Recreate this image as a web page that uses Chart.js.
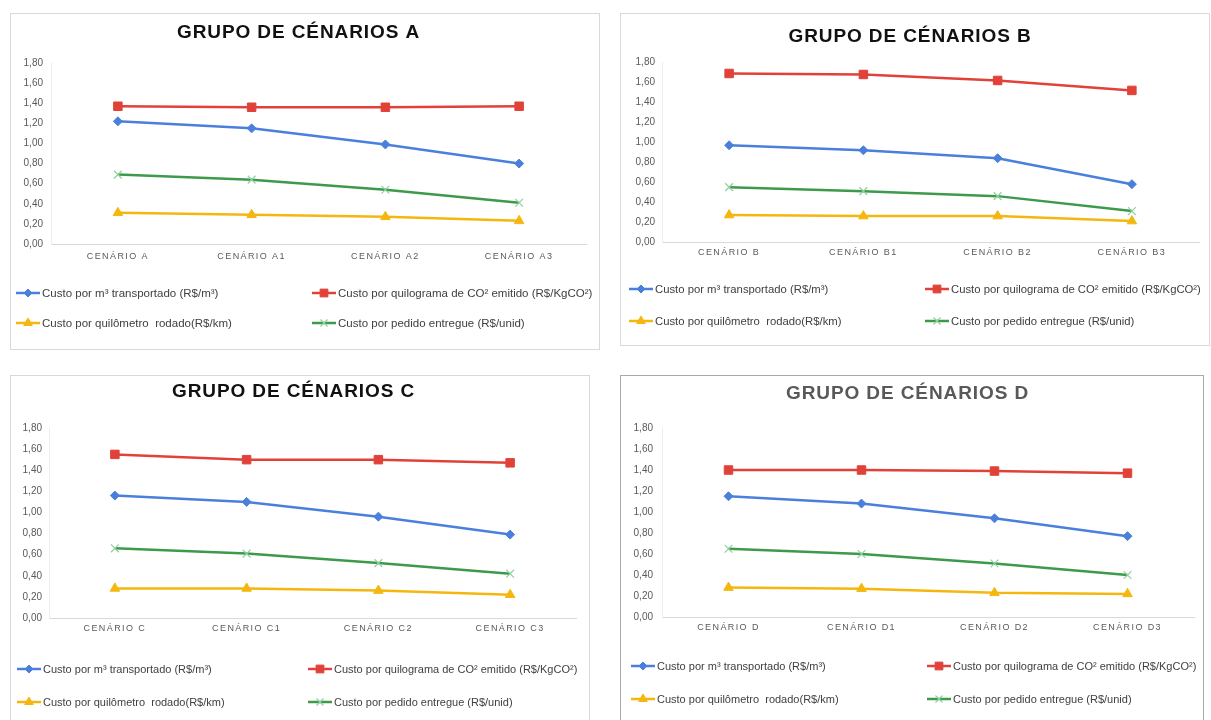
<!DOCTYPE html>
<html lang="pt-BR">
<head>
<meta charset="utf-8">
<title>Grupos de cenários</title>
<script src="https://cdn.jsdelivr.net/npm/chart.js@4.4.1/dist/chart.umd.min.js"></script>
<style>
  html, body { margin: 0; padding: 0; background: #fff; width: 1211px; height: 720px; overflow: hidden; }
  .panel { position: absolute; box-sizing: border-box; border: 1px solid #d9d9d9; background: #fff; overflow: hidden; }
  .panel canvas.plot { position: absolute; left: 0; top: 0; }
  .key { position: absolute; height: 16px; display: flex; align-items: center; white-space: pre;
         font-family: "Liberation Sans", Arial, sans-serif; font-size: 11.5px; color: #404040; }
  .key canvas { margin-right: 2px; }
</style>
</head>
<body>
<div id="pA" class="panel" style="left:10px;top:13px;width:590px;height:337px"><canvas id="cA" class="plot"></canvas></div>
<div id="pB" class="panel" style="left:620px;top:13px;width:590px;height:333px"><canvas id="cB" class="plot"></canvas></div>
<div id="pC" class="panel" style="left:10px;top:375px;width:580px;height:360px"><canvas id="cC" class="plot"></canvas></div>
<div id="pD" class="panel" style="left:620px;top:375px;width:584px;height:360px;border-color:#a9a9a9"><canvas id="cD" class="plot"></canvas></div>
<script>
// ---- data -------------------------------------------------------------
const seriesNames = [
  'Custo por m³ transportado (R$/m³)',
  'Custo por quilograma de CO² emitido (R$/KgCO²)',
  'Custo por quilômetro  rodado(R$/km)',
  'Custo por pedido entregue (R$/unid)'
];
const yTicks = [0.00, 0.20, 0.40, 0.60, 0.80, 1.00, 1.20, 1.40, 1.60, 1.80];

const cenariosA = ['CENÁRIO A', 'CENÁRIO A1', 'CENÁRIO A2', 'CENÁRIO A3'];
const m3A     = [1.22, 1.15, 0.99, 0.80];
const co2A    = [1.37, 1.36, 1.36, 1.37];
const kmA     = [0.31, 0.29, 0.27, 0.23];
const pedidoA = [0.69, 0.64, 0.54, 0.41];

const cenariosB = ['CENÁRIO B', 'CENÁRIO B1', 'CENÁRIO B2', 'CENÁRIO B3'];
const m3B     = [0.97, 0.92, 0.84, 0.58];
const co2B    = [1.69, 1.68, 1.62, 1.52];
const kmB     = [0.27, 0.26, 0.26, 0.21];
const pedidoB = [0.55, 0.51, 0.46, 0.31];

const cenariosC = ['CENÁRIO C', 'CENÁRIO C1', 'CENÁRIO C2', 'CENÁRIO C3'];
const m3C     = [1.16, 1.10, 0.96, 0.79];
const co2C    = [1.55, 1.50, 1.50, 1.47];
const kmC     = [0.28, 0.28, 0.26, 0.22];
const pedidoC = [0.66, 0.61, 0.52, 0.42];

const cenariosD = ['CENÁRIO D', 'CENÁRIO D1', 'CENÁRIO D2', 'CENÁRIO D3'];
const m3D     = [1.15, 1.08, 0.94, 0.77];
const co2D    = [1.40, 1.40, 1.39, 1.37];
const kmD     = [0.28, 0.27, 0.23, 0.22];
const pedidoD = [0.65, 0.60, 0.51, 0.40];

// ---- styles -----------------------------------------------------------
const FONT = '"Liberation Sans", Arial, sans-serif';
const seriesStyles = [
  { line: '#4a80dc', shape: 'rectRot',  radius: 4.5, fill: '#4a80dc', stroke: '#4a80dc', bw: 1 },
  { line: '#e0423a', shape: 'rect',     radius: 6,   fill: '#e0423a', stroke: '#e0423a', bw: 1 },
  { line: '#f5b70f', shape: 'triangle', radius: 5.5, fill: '#f5b70f', stroke: '#f5b70f', bw: 1 },
  { line: '#3d9a4c', shape: 'crossRot', radius: 5.5, fill: '#8fd19e', stroke: '#8fd19e', bw: 1.2 }
];

const panels = [
  { key: 'A', title: 'GRUPO DE CÉNARIOS A', titleColor: '#111', categories: cenariosA,
    series: [m3A, co2A, kmA, pedidoA], w: 588, h: 335, titleY: 19,
    area: { l: 40, r: 575, t: 49, b: 230 }, xGap: 13, yPad: 8,
    legendCols: [5, 301], legendRows: [279, 309], legendSize: 11.5 },
  { key: 'B', title: 'GRUPO DE CÉNARIOS B', titleColor: '#111', categories: cenariosB,
    series: [m3B, co2B, kmB, pedidoB], w: 588, h: 331, titleY: 23,
    area: { l: 41, r: 578, t: 48.5, b: 228 }, xGap: 11, yPad: 7,
    legendCols: [8, 304], legendRows: [275, 307], legendSize: 11.3 },
  { key: 'C', title: 'GRUPO DE CÉNARIOS C', titleColor: '#111', categories: cenariosC,
    series: [m3C, co2C, kmC, pedidoC], w: 578, h: 358, titleY: 16,
    area: { l: 38, r: 565, t: 52, b: 242 }, xGap: 11, yPad: 7,
    legendCols: [6, 297], legendRows: [293, 326], legendSize: 11 },
  { key: 'D', title: 'GRUPO DE CÉNARIOS D', titleColor: '#595959', categories: cenariosD,
    series: [m3D, co2D, kmD, pedidoD], w: 582, h: 358, titleY: 18,
    area: { l: 41, r: 573, t: 52, b: 241 }, xGap: 11, yPad: 9,
    legendCols: [10, 306], legendRows: [290, 323], legendSize: 11 }
];

// Letter-spaced title and category labels
function withSpacing(target, method, spacing) {
  if (!target || target['__sp_' + method]) return;
  const original = target[method];
  target[method] = function (...args) {
    const ctx = this.ctx;
    const prev = ctx.letterSpacing;
    ctx.letterSpacing = spacing;
    original.apply(this, args);
    ctx.letterSpacing = prev;
  };
  target['__sp_' + method] = true;
}
const spacingPlugin = {
  id: 'letterSpacing',
  afterLayout(chart, args, opts) {
    withSpacing(chart.titleBlock, 'draw', opts.title || '0px');
    withSpacing(chart.scales.x, 'drawLabels', opts.x || '0px');
  }
};

const fmt = v => Number(v).toFixed(2).replace('.', ',');

function buildChart(p) {
  const canvas = document.getElementById('c' + p.key);
  canvas.width = p.w;
  canvas.height = p.h;
  const datasets = p.series.map((values, i) => {
    const s = seriesStyles[i];
    return {
      label: seriesNames[i],
      data: values,
      borderColor: s.line,
      backgroundColor: s.line,
      borderWidth: 2.5,
      pointStyle: s.shape,
      pointRadius: s.radius,
      pointHoverRadius: s.radius,
      pointBackgroundColor: s.fill,
      pointBorderColor: s.stroke,
      pointBorderWidth: s.bw,
      tension: 0,
      fill: false
    };
  });
  const lh = 19 * 1.2;
  return new Chart(canvas, {
    type: 'line',
    data: { labels: p.categories, datasets },
    options: {
      responsive: false,
      animation: false,
      events: [],
      layout: { padding: { left: 0, right: p.w - p.area.r, top: 0, bottom: 0 } },
      plugins: {
        legend: { display: false },
        tooltip: { enabled: false },
        title: {
          display: true, text: p.title, color: p.titleColor,
          font: { family: FONT, size: 19, weight: 'bold', lineHeight: 1.2 },
          padding: { top: p.titleY - lh / 2, bottom: p.area.t - p.titleY - lh / 2 }
        },
        letterSpacing: { title: '0.9px', x: '1.4px' }
      },
      scales: {
        x: {
          offset: true,
          grid: { display: false, drawTicks: false },
          border: { display: true, color: '#d9d9d9', width: 1 },
          ticks: { color: '#595959', font: { family: FONT, size: 9, lineHeight: 1.2 },
                   padding: p.xGap - 5.4, maxRotation: 0, autoSkip: false },
          afterFit: s => { s.height = p.h - p.area.b; }
        },
        y: {
          min: 0, max: 1.8,
          grid: { display: false, drawTicks: false },
          border: { display: true, color: '#ededed', width: 1 },
          ticks: { color: '#595959', font: { family: FONT, size: 10 }, padding: p.yPad,
                   callback: v => fmt(v) },
          afterBuildTicks: s => { s.ticks = yTicks.map(v => ({ value: v })); },
          afterFit: s => { s.width = p.area.l; }
        }
      }
    },
    plugins: [spacingPlugin]
  });
}

// Legend key: short line segment with the series marker in its middle
function keyCanvas(ds) {
  const c = document.createElement('canvas');
  c.width = 24; c.height = 12;
  const g = c.getContext('2d');
  g.strokeStyle = ds.borderColor; g.lineWidth = 2.5;
  g.beginPath(); g.moveTo(0, 6); g.lineTo(24, 6); g.stroke();
  g.fillStyle = ds.pointBackgroundColor;
  g.strokeStyle = ds.pointBorderColor;
  g.lineWidth = ds.pointBorderWidth;
  Chart.helpers.drawPoint(g, { pointStyle: ds.pointStyle, radius: ds.pointRadius - 0.5, rotation: 0,
                               borderWidth: ds.pointBorderWidth }, 12, 6);
  return c;
}

function buildLegend(p, chart) {
  const panel = document.getElementById('p' + p.key);
  chart.data.datasets.forEach((ds, i) => {
    const item = document.createElement('div');
    item.className = 'key';
    item.style.left = p.legendCols[i % 2] + 'px';
    item.style.top = (p.legendRows[Math.floor(i / 2)] - 8) + 'px';
    item.style.fontSize = p.legendSize + 'px';
    item.appendChild(keyCanvas(ds));
    const span = document.createElement('span');
    span.textContent = ds.label;
    item.appendChild(span);
    panel.appendChild(item);
  });
}

panels.forEach(p => buildLegend(p, buildChart(p)));
</script>
</body>
</html>
